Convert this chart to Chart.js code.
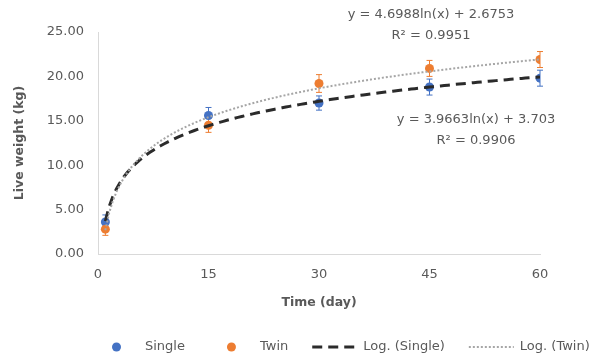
<!DOCTYPE html>
<html>
<head>
<meta charset="utf-8">
<script src="https://cdn.jsdelivr.net/npm/chart.js@4/dist/chart.umd.min.js"></script>
<style>
  html, body { margin: 0; padding: 0; background: #ffffff; }
  #wrap { width: 606px; height: 358px; }
</style>
</head>
<body>
<div id="wrap"><canvas id="c" width="606" height="358"></canvas></div>
<script>
// Live weight of single- and twin-born kids over the first 60 days
const days = [1, 15, 30, 45, 60];
const singleWeight = [3.6, 15.6, 17.0, 18.8, 19.8];
const twinWeight = [2.8, 14.5, 19.2, 20.9, 21.9];
const singleErr = [0.8, 0.9, 0.8, 0.9, 0.9];
const twinErr = [0.7, 0.8, 1.0, 0.9, 0.9];

// Logarithmic trendlines: y = a * ln(x) + b
const singleFit = [3.9663, 3.703];
const twinFit = [4.6988, 2.6753];
const singleR2 = '0.9906';
const twinR2 = '0.9951';

const xTicks = [0, 15, 30, 45, 60];
const yTicks = [0, 5, 10, 15, 20, 25];
const seriesNames = ['Single', 'Twin', 'Log. (Single)', 'Log. (Twin)'];

const BLUE = '#4472C4';
const ORANGE = '#ED7D31';
const TEXT = '#595959';
const FONT = "'DejaVu Sans', sans-serif";

const toPoints = (xs, ys) => xs.map((x, i) => ({ x: x, y: ys[i] }));
const trendDays = [];
for (let d = days[0]; d <= days[days.length - 1]; d += 0.5) trendDays.push(d);
const trendPoints = (fit) => trendDays.map(d => ({ x: d, y: fit[0] * Math.log(d) + fit[1] }));
const equation = (fit) => 'y = ' + fit[0] + 'ln(x) + ' + fit[1];

// vertical error bars with small caps, drawn under the markers
const errorBars = {
  id: 'errorBars',
  beforeDatasetsDraw(chart) {
    const { ctx, scales: { x, y } } = chart;
    chart.data.datasets.forEach(ds => {
      if (!ds.errors) return;
      ctx.save();
      ctx.strokeStyle = ds.errorColor;
      ctx.lineWidth = 1;
      ds.data.forEach((p, i) => {
        const px = x.getPixelForValue(p.x);
        const top = y.getPixelForValue(p.y + ds.errors[i]);
        const bot = y.getPixelForValue(p.y - ds.errors[i]);
        ctx.beginPath();
        ctx.moveTo(px, top); ctx.lineTo(px, bot);
        ctx.moveTo(px - 3, top); ctx.lineTo(px + 3, top);
        ctx.moveTo(px - 3, bot); ctx.lineTo(px + 3, bot);
        ctx.stroke();
      });
      ctx.restore();
    });
  }
};

// trendline equations
const equations = {
  id: 'equations',
  afterDraw(chart, args, opts) {
    const ctx = chart.ctx;
    ctx.save();
    ctx.fillStyle = TEXT;
    ctx.font = '13px ' + FONT;
    ctx.textAlign = 'center';
    ctx.textBaseline = 'middle';
    opts.items.forEach(it => {
      ctx.fillText(it.lines[0], it.x, it.y);
      ctx.fillText(it.lines[1], it.x, it.y + 21);
    });
    ctx.restore();
  }
};

// legend row under the axis title
const legendRow = {
  id: 'legendRow',
  afterDraw(chart, args, opts) {
    const ctx = chart.ctx;
    const ds = chart.data.datasets;
    ctx.save();
    ctx.font = '13px ' + FONT;
    ctx.textBaseline = 'middle';
    let cx = opts.left;
    const y = opts.y;
    ds.forEach((d, i) => {
      const mid = cx + opts.slot / 2;
      if (d.showLine === false) {
        ctx.fillStyle = d.backgroundColor;
        ctx.beginPath();
        ctx.arc(mid, y, 4.5, 0, Math.PI * 2);
        ctx.fill();
      } else {
        ctx.strokeStyle = d.borderColor;
        ctx.lineWidth = d.borderWidth;
        ctx.setLineDash(d.borderDash || []);
        ctx.beginPath();
        ctx.moveTo(cx, y); ctx.lineTo(cx + opts.slot, y);
        ctx.stroke();
        ctx.setLineDash([]);
      }
      const tx = cx + opts.slot + opts.gap;
      ctx.fillStyle = TEXT;
      ctx.fillText(d.label, tx, y);
      cx = tx + ctx.measureText(d.label).width + opts.spacing;
    });
    ctx.restore();
  }
};

new Chart(document.getElementById('c'), {
  type: 'scatter',
  data: {
    datasets: [
      {
        label: seriesNames[0],
        data: toPoints(days, singleWeight),
        errors: singleErr,
        errorColor: BLUE,
        showLine: false,
        backgroundColor: BLUE,
        borderColor: BLUE,
        pointRadius: 4.5,
        pointBorderWidth: 0,
        order: 3
      },
      {
        label: seriesNames[1],
        data: toPoints(days, twinWeight),
        errors: twinErr,
        errorColor: ORANGE,
        showLine: false,
        backgroundColor: ORANGE,
        borderColor: ORANGE,
        pointRadius: 4.5,
        pointBorderWidth: 0,
        order: 2
      },
      {
        label: seriesNames[2],
        data: trendPoints(singleFit),
        showLine: true,
        borderColor: '#2b2b2b',
        borderWidth: 3,
        borderDash: [10, 6],
        pointRadius: 0,
        fill: false,
        order: 1
      },
      {
        label: seriesNames[3],
        data: trendPoints(twinFit),
        showLine: true,
        borderColor: '#a6a6a6',
        borderWidth: 2,
        borderDash: [2, 2],
        pointRadius: 0,
        fill: false,
        order: 0
      }
    ]
  },
  options: {
    responsive: false,
    animation: false,
    events: [],
    layout: { padding: { left: 0, right: 66, top: 32, bottom: 40 } },
    plugins: {
      legend: { display: false },
      tooltip: { enabled: false },
      equations: {
        items: [
          { x: 431, y: 15, lines: [equation(twinFit), 'R\u00B2 = ' + twinR2] },
          { x: 476, y: 120, lines: [equation(singleFit), 'R\u00B2 = ' + singleR2] }
        ]
      },
      legendRow: { left: 94, y: 347, slot: 45, gap: 6, spacing: 24 }
    },
    scales: {
      x: {
        type: 'linear',
        min: xTicks[0],
        max: xTicks[xTicks.length - 1],
        afterBuildTicks: (s) => { s.ticks = xTicks.map(v => ({ value: v })); },
        afterFit: (s) => { s.height = 64; },
        grid: { display: false, drawTicks: false },
        border: { display: true, color: '#d9d9d9', width: 1 },
        ticks: { color: TEXT, font: { family: FONT, size: 13 }, padding: 13 },
        title: {
          display: true,
          text: 'Time (day)',
          color: TEXT,
          font: { family: FONT, size: 12.5, weight: 'bold' },
          padding: { top: 0, bottom: 8 }
        }
      },
      y: {
        type: 'linear',
        min: yTicks[0],
        max: yTicks[yTicks.length - 1],
        afterBuildTicks: (s) => { s.ticks = yTicks.map(v => ({ value: v })); },
        afterFit: (s) => { s.width = 98; },
        grid: { display: false, drawTicks: false },
        border: { display: true, color: '#d9d9d9', width: 1 },
        ticks: {
          color: TEXT,
          font: { family: FONT, size: 13 },
          padding: 14,
          callback: (v) => Number(v).toFixed(2)
        },
        title: {
          display: true,
          text: 'Live weight (kg)',
          color: TEXT,
          font: { family: FONT, size: 12.5, weight: 'bold' },
          padding: { top: 12, bottom: 0 }
        }
      }
    }
  },
  plugins: [errorBars, equations, legendRow]
});
</script>
</body>
</html>
